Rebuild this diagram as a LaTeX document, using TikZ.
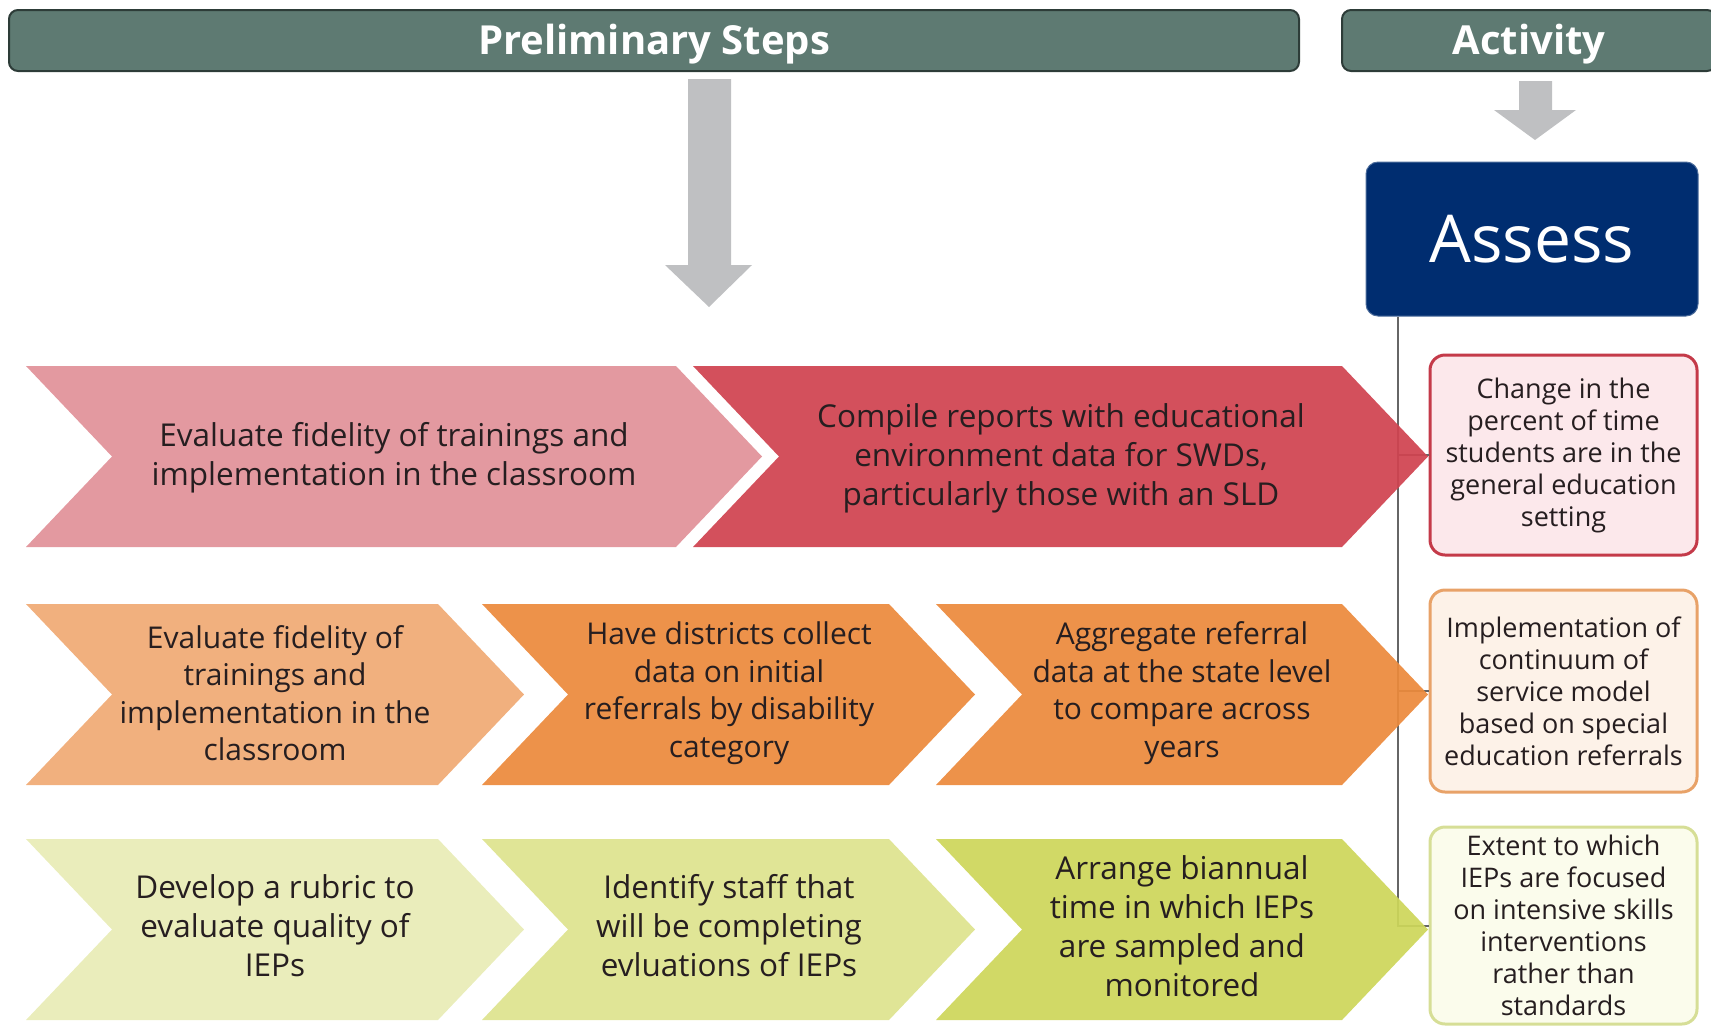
\documentclass[tikz,border=0pt]{standalone}
\usepackage{fontspec}
\setmainfont{Open Sans}
\usetikzlibrary{calc}

\definecolor{hdrfill}{RGB}{94,122,114}
\definecolor{hdrline}{RGB}{45,60,56}
\definecolor{arrgray}{RGB}{191,192,194}
\definecolor{navy}{RGB}{0,45,112}
\definecolor{txtcol}{RGB}{38,30,32}
\definecolor{pinkA}{RGB}{225,145,153}
\definecolor{redB}{RGB}{208,67,80}
\definecolor{orgA}{RGB}{240,170,116}
\definecolor{orgB}{RGB}{236,138,60}
\definecolor{ylwA}{RGB}{232,236,182}
\definecolor{ylwB}{RGB}{222,227,142}
\definecolor{ylwC}{RGB}{205,214,90}
\definecolor{boxredline}{RGB}{196,58,73}
\definecolor{boxredfill}{RGB}{252,232,235}
\definecolor{boxorgline}{RGB}{232,162,104}
\definecolor{boxorgfill}{RGB}{253,242,232}
\definecolor{boxylwline}{RGB}{214,222,150}
\definecolor{boxylwfill}{RGB}{251,252,236}

% chevron: left, right (body), top, bottom, colour
\newcommand{\chevron}[5]{%
  \fill[#5,fill opacity=.93] (#1,#3) -- (#2,#3) -- ({#2+86},{(#3+#4)/2}) -- (#2,#4)
    -- (#1,#4) -- ({#1+86},{(#3+#4)/2}) -- cycle;}

\tikzset{
  header/.style={rectangle,rounded corners=9pt,fill=hdrfill,draw=hdrline,line width=2pt,
    text=white,font=\fontsize{40}{46}\selectfont\bfseries,minimum height=61pt,inner sep=0pt,
    text height=28.5pt,text depth=0pt},
  steptxt/.style={align=center,text=txtcol,font=\fontsize{31.5}{39}\selectfont,inner sep=0pt},
  steptxtsm/.style={steptxt,font=\fontsize{30}{37.5}\selectfont},
  outbox/.style={rectangle,rounded corners=15pt,line width=3pt,minimum width=267pt,
    align=center,text=txtcol,font=\fontsize{27}{32}\selectfont,inner sep=0pt},
  conn/.style={draw=black!60,line width=2pt}
}

\begin{document}
\begin{tikzpicture}[x=1pt,y=-1pt]
  \useasboundingbox (0,0) rectangle (1711,1026);
  % cabeceras
  \node[header,minimum width=1290pt] (prelim) at (654,40.5) {Preliminary Steps};
  \node[header,minimum width=374pt] (activ) at (1529,40.5) {Activity};
  % flechas grises
  \fill[arrgray] (688,79) -- (731,79) -- (731,265) -- (752,265) -- (709,307) -- (665,265) -- (688,265) -- cycle;
  \fill[arrgray] (1519,81) -- (1552,81) -- (1552,110) -- (1576,110) -- (1535,140) -- (1494,110) -- (1519,110) -- cycle;
  \node[rectangle,rounded corners=12pt,fill=navy,draw=navy!70!white,line width=1pt,minimum width=332pt,
    minimum height=154pt,text=white,font=\fontsize{66}{74}\selectfont] (assess) at (1532,239) {Assess};
  % resultados
  \node[outbox,draw=boxredline,fill=boxredfill,minimum height=200pt] (out1) at (1563.5,455)
    {Change in the\\percent of time\\students are in the\\general education\\setting};
  \node[outbox,draw=boxorgline,fill=boxorgfill,minimum height=202pt] (out2) at (1563.5,691)
    {Implementation of\\continuum of\\service model\\based on special\\education referrals};
  \node[outbox,draw=boxylwline,fill=boxylwfill,minimum height=197pt] (out3) at (1563.5,925.5)
    {Extent to which\\IEPs are focused\\on intensive skills\\interventions\\rather than\\standards};
  \coordinate (trunk) at ($(assess.south west)+(32,0)$);
  \draw[conn] (trunk) |- (out3.west) (trunk |- out1.west) -- (out1.west) (trunk |- out2.west) -- (out2.west);
  % fila 1
  \chevron{26}{676}{366}{547}{pinkA}
  \chevron{693}{1342}{366}{547}{redB}
  \node[steptxt] (s11) at (394,458) {Evaluate fidelity of trainings and\\implementation in the classroom};
  \node[steptxt] (s12) at (1061,458) {Compile reports with educational\\environment data for SWDs,\\particularly those with an SLD};
  % fila 2
  \chevron{26}{438}{604}{785}{orgA}
  \chevron{482}{889}{604}{785}{orgB}
  \chevron{936}{1342}{604}{785}{orgB}
  \node[steptxtsm] (s21) at (275,693) {Evaluate fidelity of\\trainings and\\implementation in the\\classroom};
  \node[steptxtsm] (s22) at (729,693) {Have districts collect\\data on initial\\referrals by disability\\category};
  \node[steptxtsm] (s23) at (1182,693) {Aggregate referral\\data at the state level\\to compare across\\years};
  % fila 3
  \chevron{26}{438}{839}{1020}{ylwA}
  \chevron{482}{889}{839}{1020}{ylwB}
  \chevron{936}{1342}{839}{1020}{ylwC}
  \node[steptxt] (s31) at (275,926) {Develop a rubric to\\evaluate quality of\\IEPs};
  \node[steptxt] (s32) at (729,926) {Identify staff that\\will be completing\\evluations of IEPs};
  \node[steptxt] (s33) at (1182,926) {Arrange biannual\\time in which IEPs\\are sampled and\\monitored};
\end{tikzpicture}
\end{document}
